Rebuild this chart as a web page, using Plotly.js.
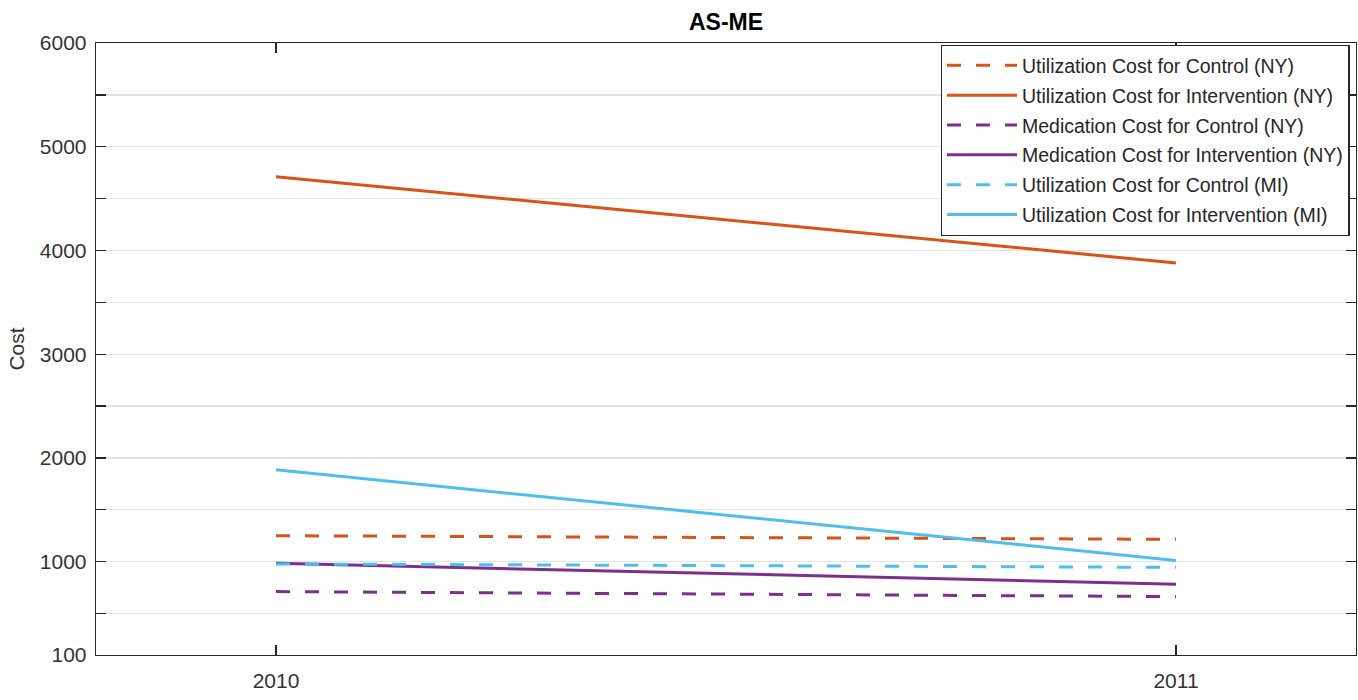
<!DOCTYPE html>
<html><head><meta charset="utf-8">
<script src="https://cdn.plot.ly/plotly-3.0.1.min.js"></script>
<style>body{margin:0;background:#fff}#chart{width:1358px;height:700px}</style>
</head><body><div id="chart"></div>
<script>
const years = [2010, 2011];
const seriesNames = [
  "Utilization Cost for Control (NY)",
  "Utilization Cost for Intervention (NY)",
  "Medication Cost for Control (NY)",
  "Medication Cost for Intervention (NY)",
  "Utilization Cost for Control (MI)",
  "Utilization Cost for Intervention (MI)"
];
const utilControlNY = [1250, 1215];
const utilInterventionNY = [4710, 3880];
const medControlNY = [711, 663];
const medInterventionNY = [985, 782];
const utilControlMI = [978, 945];
const utilInterventionMI = [1885, 1012];
const yTickVals = [100, 500, 1000, 1500, 2000, 2500, 3000, 3500, 4000, 4500, 5000, 5500, 6000];
const yTickText = ["100", "", "1000", "", "2000", "", "3000", "", "4000", "", "5000", "", "6000"];
const xTickVals = [2010, 2011];
const xTickText = ["2010", "2011"];

const orange = "#D95319", purple = "#7E2F8E", blue = "#4DBEEE";
const dash = "14px,15px";
const values = [utilControlNY, utilInterventionNY, medControlNY, medInterventionNY, utilControlMI, utilInterventionMI];
const colors = [orange, orange, purple, purple, blue, blue];
const dashes = [dash, "solid", dash, "solid", dash, "solid"];

const traces = values.map((v, i) => ({
  x: years, y: v, name: seriesNames[i], type: "scatter", mode: "lines",
  legendgroup: "g" + i,
  line: {color: colors[i], width: 3, dash: dashes[i]}
}));

const axisCommon = {
  showline: true, linecolor: "#262626", linewidth: 1.3, mirror: "ticks",
  ticks: "inside", ticklen: 10, tickcolor: "#262626", tickwidth: 1.3,
  zeroline: false,
  tickfont: {family: "Liberation Sans, Arial, sans-serif", size: 21, color: "#333333"}
};

const layout = {
  width: 1358, height: 700,
  paper_bgcolor: "#fff", plot_bgcolor: "#fff",
  margin: {l: 96, r: 2, t: 43, b: 45},
  title: {text: "<b>AS-ME</b>", x: 0.5, xref: "paper", y: 0.969, yanchor: "middle",
    font: {family: "Liberation Sans, Arial, sans-serif", size: 23, color: "#000"}},
  showlegend: true,
  legend: {
    x: 0.995, xanchor: "right", y: 0.997, yanchor: "top",
    bgcolor: "#fff", bordercolor: "#262626", borderwidth: 1.3,
    font: {family: "Liberation Sans, Arial, sans-serif", size: 19.5, color: "#262626"},
    itemwidth: 70, tracegroupgap: 1.5
  },
  xaxis: Object.assign({}, axisCommon, {
    range: [2009.8, 2011.2], tickvals: xTickVals, ticktext: xTickText,
    showgrid: false, ticklabelstandoff: 6
  }),
  yaxis: Object.assign({}, axisCommon, {
    range: [100, 6000], tickvals: yTickVals, ticktext: yTickText,
    showgrid: true, gridcolor: "#e3e3e3", gridwidth: 1.3, ticklabelstandoff: 4,
    title: {text: "Cost", standoff: 9, font: {family: "Liberation Sans, Arial, sans-serif", size: 21, color: "#333333"}}
  })
};

Plotly.newPlot("chart", traces, layout, {displayModeBar: false, staticPlot: true});
</script></body></html>
